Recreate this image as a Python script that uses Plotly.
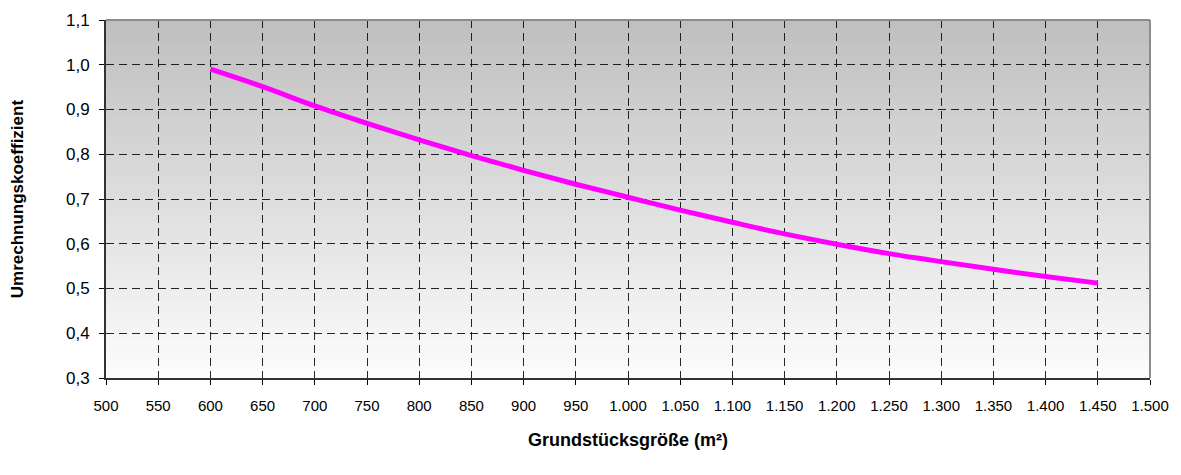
import plotly.graph_objects as go

# Grundstücksgröße (m²) und Umrechnungskoeffizient
groesse = [600, 650, 700, 750, 800, 850, 900, 950, 1000, 1050, 1100,
           1150, 1200, 1250, 1300, 1350, 1400, 1450]
koeffizient = [0.990, 0.951, 0.908, 0.869, 0.832, 0.797, 0.764, 0.733, 0.704,
               0.675, 0.648, 0.622, 0.599, 0.578, 0.560, 0.543, 0.527, 0.512]

x_ticks = list(range(500, 1501, 50))
y_ticks = [0.3, 0.4, 0.5, 0.6, 0.7, 0.8, 0.9, 1.0, 1.1]

FONT = "Liberation Sans, Arial, sans-serif"

fig = go.Figure()
fig.add_trace(
    go.Scatter(
        x=groesse,
        y=koeffizient,
        mode="lines",
        line=dict(color="#ff00ff", width=5, shape="spline"),
        showlegend=False,
    )
)

# grey-to-white vertical gradient behind the grid
shapes = []
n = 80
for i in range(n):
    t = i / (n - 1)  # 0 at bottom, 1 at top
    c = int(round(252 - (252 - 191) * t))
    shapes.append(
        dict(
            type="rect", xref="x domain", yref="y domain",
            x0=0, x1=1, y0=i / n, y1=(i + 1) / n + 0.002,
            fillcolor=f"rgb({c},{c},{c})", line=dict(width=0), layer="below",
        )
    )
# grey frame on top and right
shapes.append(dict(type="line", xref="x domain", yref="y domain", x0=0, x1=1, y0=1, y1=1,
                   line=dict(color="#8c8c8c", width=2), layer="above"))
shapes.append(dict(type="line", xref="x domain", yref="y domain", x0=1, x1=1, y0=0, y1=1,
                   line=dict(color="#8c8c8c", width=2), layer="above"))

grid = dict(showgrid=True, gridcolor="rgba(0,0,0,0.85)", gridwidth=1, griddash="8px,5px")

fig.update_layout(
    width=1181,
    height=475,
    paper_bgcolor="white",
    plot_bgcolor="white",
    separators=",.",
    margin=dict(l=106, r=31, t=20, b=97),
    font=dict(family=FONT, size=16, color="black"),
    shapes=shapes,
    xaxis=dict(
        range=[500, 1500],
        tickvals=x_ticks,
        tickformat=",d",
        ticks="outside",
        ticklen=5,
        tickcolor="black",
        ticklabelstandoff=8,
        showline=True,
        linecolor="#333333",
        linewidth=2,
        zeroline=False,
        automargin=False,
        tickfont=dict(size=15),
        **grid,
    ),
    yaxis=dict(
        range=[0.3, 1.1],
        tickvals=y_ticks,
        tickformat=".1f",
        ticks="outside",
        ticklen=5,
        tickcolor="black",
        ticklabelstandoff=6,
        showline=True,
        linecolor="#333333",
        linewidth=2,
        zeroline=False,
        automargin=False,
        tickfont=dict(size=17),
        **grid,
    ),
    annotations=[
        dict(
            text="<b>Grundstücksgröße (m²)</b>",
            xref="paper", yref="paper", x=0.5, y=-0.173,
            xanchor="center", yanchor="middle", showarrow=False,
            font=dict(size=18),
        ),
        dict(
            text="<b>Umrechnungskoeffizient</b>",
            xref="paper", yref="paper", x=-0.085, y=0.5,
            xanchor="center", yanchor="middle", showarrow=False,
            textangle=-90, font=dict(size=17),
        ),
    ],
)

# drop the default page margin so the figure sits at the window's top-left corner
fig.write_html(
    "out.html",
    config={"displayModeBar": False},
    post_script="document.body.style.margin='0';",
)
